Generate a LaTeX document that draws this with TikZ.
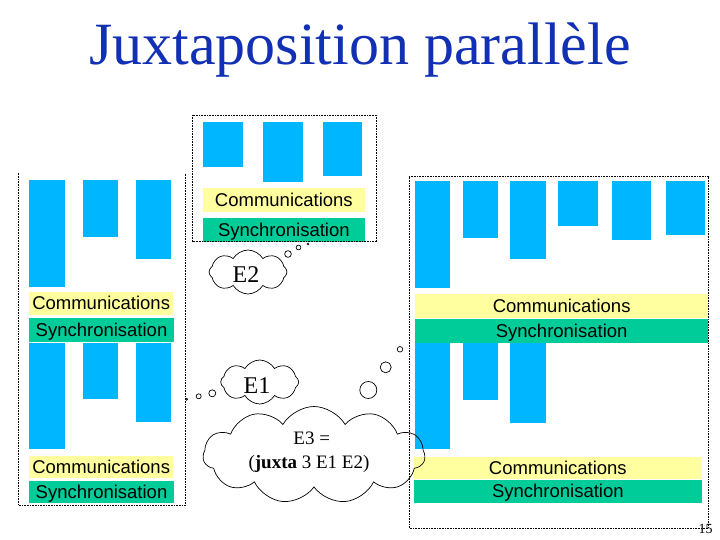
\documentclass[tikz,border=0pt]{standalone}
\usepackage{fontspec}
\setmainfont{Liberation Serif}
\setsansfont{Liberation Sans}
\usetikzlibrary{shapes.symbols}
\definecolor{barblue}{RGB}{0,183,255}
\definecolor{commyellow}{RGB}{255,255,160}
\definecolor{syncgreen}{RGB}{0,204,153}
\definecolor{titleblue}{RGB}{18,48,180}
\tikzset{
  blkbar/.style={fill=barblue, draw=none},
  lbl/.style={font=\sffamily\fontsize{18.5}{20}\selectfont, inner sep=0pt, outer sep=0pt, text height=13.25pt, text depth=0pt, anchor=center},
  commbox/.style={lbl, fill=commyellow},
  syncbox/.style={lbl, fill=syncgreen},
  dotbox/.style={draw=black, line width=0.7pt, dash pattern=on 0.7pt off 0.9pt},
  thought/.style={cloud, draw=black, line width=0.7pt, cloud ignores aspect, cloud puffs=8, cloud puff arc=120, inner sep=0pt},
  bubble/.style={circle, draw=black, line width=0.7pt, inner sep=0pt},
  etext/.style={font=\fontsize{24}{26}\selectfont, inner sep=0pt, text height=15.9pt, text depth=0pt, anchor=center},
  e3text/.style={font=\fontsize{19}{21}\selectfont, inner sep=0pt, text height=12.6pt, text depth=0pt, anchor=center},
}
\begin{document}
\begin{tikzpicture}[x=1pt, y=-1pt]
\useasboundingbox (0,0) rectangle (720,540);

% title
\node[font=\fontsize{60}{66}\selectfont, text=titleblue, anchor=base, inner sep=0pt] (title) at (360,65) {Juxtaposition parallèle};

% ---------- left box ----------
\draw[dotbox] (18.3,172.7) -- (18.3,505) -- (185.7,505) -- (185.7,172.7);
\fill[blkbar] (29,180) rectangle (65,286.7);
\fill[blkbar] (83,180) rectangle (117.7,236.7);
\fill[blkbar] (136,180) rectangle (171,258.7);
\node[commbox, minimum width=144.3pt, minimum height=23.3pt] (lcommA) at (101.15,303.35) {Communications};
\node[syncbox, minimum width=145pt, minimum height=23.4pt] (lsyncA) at (101.5,330) {Synchronisation};
\fill[blkbar] (29,342.7) rectangle (65,449.3);
\fill[blkbar] (83,342.7) rectangle (117.7,399.3);
\fill[blkbar] (136,342.7) rectangle (171,421.7);
\node[commbox, minimum width=144.3pt, minimum height=22.3pt] (lcommB) at (101.15,467.15) {Communications};
\node[syncbox, minimum width=145pt, minimum height=22.6pt] (lsyncB) at (101.5,492) {Synchronisation};

% ---------- top box ----------
\fill[blkbar] (202.7,121.7) rectangle (242.7,166.7);
\fill[blkbar] (262.7,121.7) rectangle (302.7,181.7);
\fill[blkbar] (322.7,121.7) rectangle (361.7,176);
\node[commbox, minimum width=162.3pt, minimum height=24pt] (tcomm) at (283.85,199.7) {Communications};
\node[syncbox, minimum width=162.3pt, minimum height=23.4pt] (tsync) at (283.85,230) {Synchronisation};
\draw[dotbox] (192.7,115) rectangle (376.7,241.7);

% ---------- right box ----------
\fill[blkbar] (415,181) rectangle (450,287.7);
\fill[blkbar] (463.3,181) rectangle (497.7,237.7);
\fill[blkbar] (510,181) rectangle (545.7,259.3);
\fill[blkbar] (557.7,181) rectangle (597.7,225.7);
\fill[blkbar] (612,181) rectangle (650.7,240);
\fill[blkbar] (666,181) rectangle (705,235);
\node[commbox, minimum width=293.3pt, minimum height=24.3pt] (rcommA) at (561.65,306.15) {Communications};
\node[syncbox, minimum width=293.3pt, minimum height=23.4pt] (rsyncA) at (561.65,331) {Synchronisation};
\fill[blkbar] (415,342.7) rectangle (450,449.3);
\fill[blkbar] (463.3,342.7) rectangle (497.7,400);
\fill[blkbar] (510,342.7) rectangle (545.7,422.7);
\node[commbox, minimum width=287.7pt, minimum height=22pt] (rcommB) at (557.85,468.3) {Communications};
\node[syncbox, minimum width=287.7pt, minimum height=22.7pt] (rsyncB) at (557.85,491.35) {Synchronisation};
\draw[dotbox] (409.3,176.7) rectangle (708.3,528.3);

% page number
\node[font=\fontsize{14}{16}\selectfont, anchor=base, inner sep=0pt] (pgnum) at (705.7,533) {15};

% ---------- thought clouds ----------
\node[thought, minimum width=78pt, minimum height=44pt] (e2cloud) at (248,272) {};
\node[etext] (e2) at (246,275) {E2};
\node[bubble, minimum size=6.7pt] (b2a) at (288,254) {};
\node[bubble, minimum size=4.7pt] (b2b) at (298.5,247.5) {};
\node[bubble, minimum size=2pt] (b2c) at (308,244) {};

\node[thought, minimum width=78pt, minimum height=44pt] (e1cloud) at (259.7,382) {};
\node[etext] (e1) at (257,385.3) {E1};
\node[bubble, minimum size=7pt] (b1a) at (212.3,393.3) {};
\node[bubble, minimum size=5pt] (b1b) at (198.7,396.3) {};
\node[bubble, minimum size=2pt] (b1c) at (186.7,399.3) {};

\node[thought, cloud puffs=11, minimum width=222pt, minimum height=97pt] (e3cloud) at (314,455) {};
\node[e3text] (e3a) at (311.7,438) {E3 =};
\node[e3text] (e3b) at (309,462.5) {(\textbf{juxta} 3 E1 E2)};
\node[bubble, minimum size=17pt] (b3a) at (368.3,390) {};
\node[bubble, minimum size=11pt] (b3b) at (385.7,367.3) {};
\node[bubble, minimum size=5.5pt] (b3c) at (400,349.3) {};
\end{tikzpicture}
\end{document}
